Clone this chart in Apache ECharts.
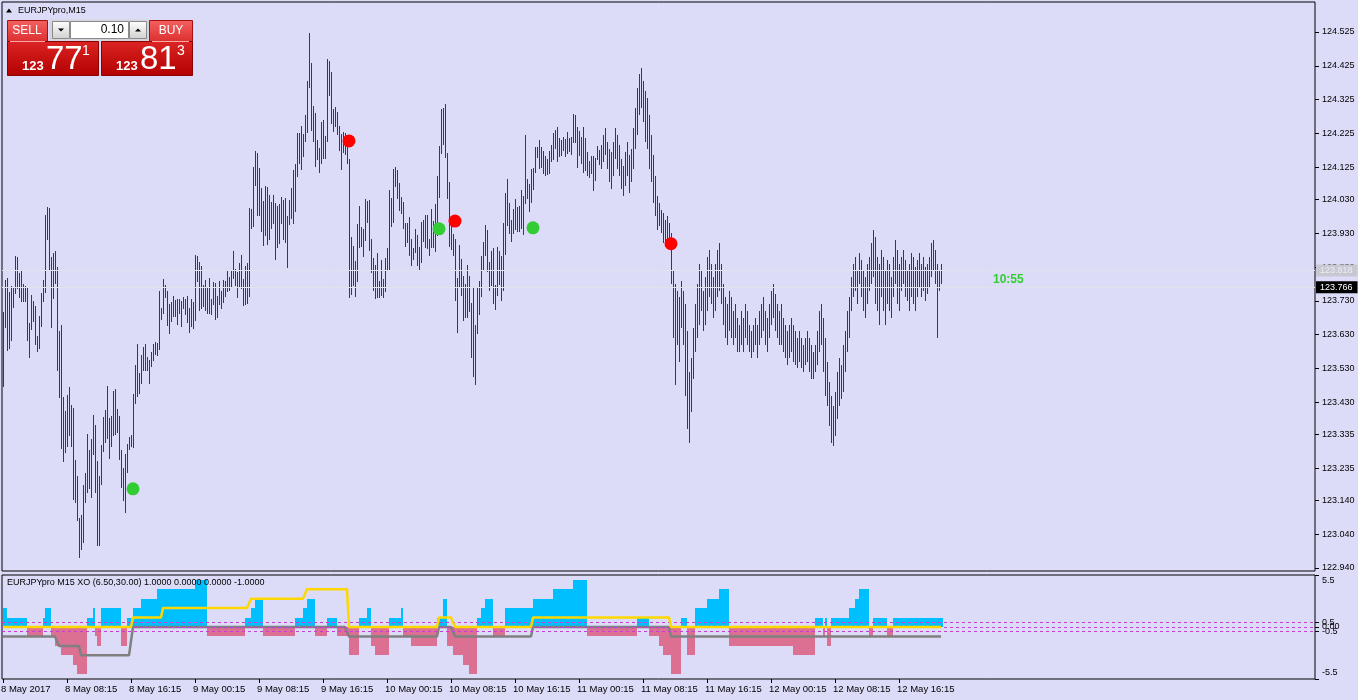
<!DOCTYPE html>
<html><head><meta charset="utf-8">
<script src="https://cdn.jsdelivr.net/npm/echarts@6/dist/echarts.min.js"></script>
<style>html,body{margin:0;padding:0;background:#dcdcf8;}#c{width:1358px;height:700px;}</style>
</head><body><div id="c"></div>
<script>
// ---------- DATA ----------
const symbolTitle = 'EURJPYpro,M15';
const indicatorTitle = 'EURJPYpro M15 XO (6.50,30.00) 1.0000 0.0000 0.0000 -1.0000';
const timeLabels = ['8 May 2017','8 May 08:15','8 May 16:15','9 May 00:15','9 May 08:15','9 May 16:15','10 May 00:15','10 May 08:15','10 May 16:15','11 May 00:15','11 May 08:15','11 May 16:15','12 May 00:15','12 May 08:15','12 May 16:15'];
const timeLabelBars = [0,32,64,96,128,160,192,224,256,288,320,352,384,416,448];
const priceTicks = [124.525,124.425,124.325,124.225,124.125,124.030,123.930,123.830,123.730,123.630,123.530,123.430,123.335,123.235,123.140,123.040,122.940];
const indTicks = [5.5,0.5,0,-0.5,-5.5];
const indLevels = [0.5,0,-0.5];
const bidPrice = 123.766;
const askPrice = 123.818;
const timerText = '10:55';
const highs = [
123.698,123.792,123.797,123.757,123.774,123.770,123.863,123.859,123.812,123.821,
123.780,123.774,123.769,123.664,123.748,123.730,123.715,123.626,123.685,123.752,
123.792,123.984,124.007,124.004,123.861,123.871,123.878,123.829,123.641,123.659,
123.446,123.403,123.452,123.476,123.422,123.413,123.260,123.212,123.087,123.097,
123.186,123.220,123.336,123.289,123.322,123.393,123.363,123.255,123.212,123.304,
123.386,123.407,123.478,123.383,123.390,123.464,123.469,123.410,123.390,123.289,
123.237,123.277,123.307,123.327,123.333,123.454,123.540,123.603,123.517,123.570,
123.593,123.603,123.563,123.555,123.579,123.603,123.608,123.605,123.759,123.709,
123.795,123.777,123.759,123.721,123.727,123.745,123.733,123.736,123.736,123.729,
123.741,123.736,123.745,123.709,123.736,123.727,123.866,123.863,123.845,123.833,
123.777,123.792,123.771,123.798,123.736,123.786,123.783,123.745,123.789,123.759,
123.792,123.789,123.819,123.801,123.822,123.878,123.825,123.816,123.842,123.865,
123.796,123.833,123.842,124.005,124.002,124.126,124.173,124.167,124.123,124.064,
124.025,124.070,124.067,124.043,124.023,124.043,124.020,124.011,124.017,124.037,
124.028,124.034,123.981,124.028,124.064,124.117,124.135,124.227,124.227,124.247,
124.224,124.280,124.380,124.522,124.434,124.306,124.286,124.206,124.182,124.259,
124.265,124.218,124.446,124.440,124.407,124.298,124.304,124.289,124.247,124.224,
124.230,124.227,124.197,124.150,123.919,123.892,123.848,123.957,124.011,123.949,
123.943,124.031,124.026,124.029,123.913,123.857,123.836,123.872,123.789,123.851,
123.795,123.857,123.886,124.058,124.034,124.120,124.126,124.117,124.079,124.037,
124.023,123.960,123.960,123.978,123.913,123.886,123.943,123.925,123.889,123.964,
123.969,123.984,123.984,123.913,124.002,123.966,124.017,124.100,124.188,124.298,
124.301,124.312,124.168,124.082,123.955,123.928,123.913,123.799,123.895,123.854,
123.802,123.780,123.836,123.804,123.724,123.771,123.659,123.768,123.789,123.863,
123.904,123.955,123.940,123.845,123.878,123.887,123.777,123.890,123.878,123.863,
123.961,124.049,124.091,124.020,123.969,124.002,124.031,124.008,124.011,124.058,
124.040,124.221,124.091,124.076,124.120,124.123,124.185,124.185,124.206,124.185,
124.173,124.157,124.150,124.173,124.191,124.227,124.236,124.244,124.212,124.206,
124.215,124.209,124.230,124.212,124.215,124.283,124.280,124.244,124.233,124.215,
124.244,124.212,124.171,124.144,124.159,124.159,124.153,124.188,124.176,124.190,
124.22,124.24,124.20,124.18,124.17,124.20,124.24,124.22,124.19,124.15,
124.13,124.17,124.20,124.16,124.18,124.24,124.30,124.36,124.40,124.42,
124.38,124.35,124.33,124.28,124.22,124.16,124.10,124.04,124.02,124.00,
123.99,123.97,123.98,123.96,123.93,123.82,123.78,123.76,123.74,123.79,
123.76,123.72,123.64,123.52,123.56,123.65,123.72,123.78,123.84,123.82,
123.76,123.80,123.86,123.88,123.84,123.80,123.84,123.88,123.90,123.84,
123.78,123.74,123.72,123.76,123.74,123.70,123.72,123.68,123.66,123.70,
123.68,123.72,123.70,123.66,123.64,123.66,123.68,123.66,123.70,123.72,
123.74,123.70,123.68,123.72,123.76,123.78,123.75,123.72,123.70,123.72,
123.68,123.66,123.64,123.66,123.68,123.66,123.64,123.62,123.64,123.62,
123.60,123.62,123.64,123.62,123.60,123.58,123.60,123.64,123.70,123.72,
123.68,123.62,123.55,123.49,123.45,123.42,123.46,123.52,123.56,123.54,
123.60,123.64,123.70,123.74,123.80,123.84,123.86,123.82,123.87,123.85,
123.82,123.80,123.84,123.86,123.90,123.94,123.92,123.86,123.84,123.88,
123.86,123.82,123.85,123.84,123.80,123.86,123.91,123.88,123.84,123.86,
123.88,123.85,123.82,123.84,123.87,123.86,123.83,123.85,123.87,123.84,
123.86,123.83,123.84,123.86,123.90,123.91,123.88,123.84,123.82,123.84
];
const lows = [
123.476,123.649,123.583,123.588,123.610,123.710,123.751,123.764,123.737,123.728,
123.728,123.728,123.612,123.560,123.644,123.666,123.598,123.580,123.589,123.654,
123.728,123.754,123.910,123.817,123.651,123.734,123.780,123.524,123.444,123.291,
123.252,123.281,123.299,123.329,123.297,123.141,123.133,123.080,122.971,122.993,
123.013,123.131,123.161,123.173,123.146,123.274,123.163,123.006,123.006,123.186,
123.284,123.311,123.321,123.262,123.297,123.329,123.334,123.340,123.258,123.178,
123.139,123.104,123.222,123.289,123.297,123.296,123.425,123.447,123.455,123.484,
123.524,123.524,123.523,123.484,123.533,123.553,123.569,123.567,123.585,123.674,
123.691,123.737,123.656,123.632,123.666,123.681,123.683,123.659,123.691,123.653,
123.706,123.688,123.665,123.635,123.654,123.647,123.671,123.786,123.700,123.706,
123.713,123.700,123.691,123.691,123.687,123.718,123.674,123.680,123.718,123.706,
123.724,123.742,123.756,123.759,123.768,123.795,123.774,123.739,123.768,123.766,
123.714,123.717,123.721,123.740,123.941,123.949,124.071,123.982,123.981,123.935,
123.893,123.923,123.896,123.909,123.943,123.958,123.852,123.887,123.899,123.958,
123.911,123.902,123.828,123.955,123.972,123.958,123.994,124.095,124.136,124.118,
124.156,124.201,124.225,124.358,124.231,124.201,124.127,124.145,124.109,124.136,
124.148,124.148,124.201,124.337,124.254,124.228,124.245,124.219,124.174,124.118,
124.168,124.160,124.136,123.737,123.748,123.775,123.742,123.787,123.887,123.890,
123.861,123.908,123.959,123.876,123.811,123.760,123.734,123.737,123.737,123.743,
123.737,123.757,123.822,123.822,123.947,123.959,124.068,124.032,123.997,123.988,
123.941,123.890,123.902,123.864,123.834,123.852,123.870,123.834,123.817,123.843,
123.905,123.885,123.884,123.864,123.885,123.885,123.873,123.923,124.035,124.163,
124.192,124.151,124.030,123.890,123.879,123.864,123.731,123.636,123.772,123.743,
123.669,123.678,123.680,123.698,123.562,123.506,123.482,123.633,123.689,123.740,
123.822,123.864,123.814,123.760,123.775,123.722,123.704,123.743,123.778,123.731,
123.760,123.867,123.950,123.929,123.905,123.929,123.938,123.935,123.935,123.941,
123.926,124.015,124.032,123.994,124.018,124.059,124.109,124.151,124.121,124.124,
124.106,124.098,124.101,124.106,124.142,124.145,124.180,124.142,124.154,124.157,
124.174,124.154,124.163,124.171,124.160,124.198,124.198,124.124,124.157,124.136,
124.109,124.115,124.098,124.092,124.106,124.056,124.083,124.145,124.133,124.120,
124.14,124.16,124.12,124.08,124.06,124.10,124.15,124.12,124.10,124.06,
124.04,124.07,124.10,124.05,124.08,124.12,124.18,124.22,124.28,124.30,
124.26,124.20,124.18,124.12,124.08,124.02,123.98,123.94,123.95,123.93,
123.90,123.89,123.91,123.90,123.78,123.62,123.48,123.60,123.55,123.65,
123.60,123.45,123.35,123.31,123.40,123.50,123.58,123.62,123.66,123.70,
123.64,123.66,123.70,123.74,123.72,123.68,123.70,123.74,123.76,123.72,
123.66,123.62,123.60,123.64,123.62,123.60,123.62,123.58,123.58,123.60,
123.58,123.62,123.60,123.58,123.56,123.58,123.60,123.56,123.60,123.62,
123.64,123.60,123.58,123.62,123.66,123.68,123.64,123.62,123.60,123.60,
123.58,123.56,123.54,123.56,123.58,123.55,123.54,123.53,123.55,123.53,
123.52,123.54,123.55,123.52,123.50,123.50,123.52,123.54,123.58,123.60,
123.52,123.45,123.42,123.36,123.31,123.30,123.33,123.38,123.42,123.44,
123.46,123.52,123.58,123.62,123.70,123.74,123.76,123.72,123.78,123.74,
123.70,123.68,123.72,123.76,123.78,123.80,123.72,123.70,123.66,123.74,
123.70,123.66,123.72,123.70,123.68,123.74,123.78,123.72,123.70,123.76,
123.78,123.74,123.73,123.70,123.74,123.72,123.70,123.74,123.77,123.74,
123.76,123.73,123.75,123.77,123.80,123.82,123.78,123.62,123.76,123.78
];
// XO histogram: positive = X count (blue), negative = O count (pink)
const xoHist = [
2,2,1,1,1,1,1,1,1,1,
1,1,-1,-1,-1,-1,-1,-1,-1,-1,
1,2,2,2,-1,-1,-2,-2,-2,-3,
-3,-3,-3,-3,-3,-4,-4,-5,-5,-5,
-5,-5,1,1,1,2,-1,-2,-2,2,
2,2,2,2,2,2,2,2,2,-2,
-2,-2,1,1,1,2,2,2,2,3,
3,3,3,3,3,3,3,4,4,4,
4,4,4,4,4,4,4,4,4,4,
4,4,4,4,4,4,5,5,5,5,
5,5,-1,-1,-1,-1,-1,-1,-1,-1,
-1,-1,-1,-1,-1,-1,-1,-1,-1,-1,
-1,1,1,1,2,2,3,3,3,3,
-1,-1,-1,-1,-1,-1,-1,-1,-1,-1,
-1,-1,-1,-1,-1,-1,1,1,1,1,
2,2,3,3,3,3,-1,-1,-1,-1,
-1,-1,1,1,1,1,1,-1,-1,-1,
-1,-1,-1,-3,-3,-3,-3,-3,1,1,
1,1,2,2,-2,-2,-3,-3,-3,-3,
-3,-3,-3,1,1,1,1,1,1,2,
-1,-1,-1,-1,-2,-2,-2,-2,-2,-2,
-2,-2,-2,-2,-2,-2,-2,1,1,1,
3,3,-2,-2,-2,-3,-3,-3,-3,-3,
-4,-4,-4,-5,-5,-5,-5,1,1,2,
2,3,3,3,3,-1,-1,-1,-1,-1,
-1,2,2,2,2,2,2,2,2,2,
2,2,2,2,2,3,3,3,3,3,
3,3,3,3,3,4,4,4,4,4,
4,4,4,4,4,5,5,5,5,5,
5,5,-1,-1,-1,-1,-1,-1,-1,-1,
-1,-1,-1,-1,-1,-1,-1,-1,-1,-1,
-1,-1,-1,-1,-1,-1,-1,1,1,1,
1,1,1,-1,-1,-1,-1,-1,-2,-2,
-3,-3,-3,-3,-5,-5,-5,-5,-5,1,
1,1,-3,-3,-3,-3,2,2,2,2,
2,2,3,3,3,3,3,3,4,4,
4,4,4,-2,-2,-2,-2,-2,-2,-2,
-2,-2,-2,-2,-2,-2,-2,-2,-2,-2,
-2,-2,-2,-2,-2,-2,-2,-2,-2,-2,
-2,-2,-2,-2,-2,-3,-3,-3,-3,-3,
-3,-3,-3,-3,-3,-3,1,1,1,1,
-1,1,-2,-2,1,1,1,1,1,1,
1,1,1,2,2,2,3,3,4,4,
4,4,4,-1,-1,1,1,1,1,1,
1,1,-1,-1,-1,1,1,1,1,1,
1,1,1,1,1,1,1,1,1,1,
1,1,1,1,1,1,1,1,1,1
];
const trendUp = [
0,0,0,0,0,0,0,0,0,0, 0,0,0,0,0,0,0,0,0,0, 0,0,0,0,0,0,0,0,0,0,
0,0,0,0,0,0,0,0,0,0, 0,0,0,0,0,0,0,0,0,0, 0,0,0,0,0,0,0,0,0,0,
0,0,0,0,0,1,1,1,1,1, 1,1,1,1,1,1,1,1,1,1,
2,2,2,2,2,2,2,2,2,2, 2,2,2,2,2,2,2,2,2,2, 2,2,2,2,2,2,2,2,2,2, 2,2,2,2,2,2,2,2,2,2,
2,2,2,2,3,3,3,3,3,3, 3,3,3,3,3,3,3,3,3,3, 3,3,3,3,3,3,3,3,3,3,
3,3,4,4,4,4,4,4,4,4, 4,4,4,4,4,4,4,4,4,4, 4,4,4,0,0,0,0,0,0,0,
0,0,0,0,0,0,0,0,0,0, 0,0,0,0,0,0,0,0,0,0, 0,0,0,0,0,0,0,0,0,0,
0,0,0,0,0,0,0,0,1,1, 1,1,1,1,1,1,0,0,0,0,
0,0,0,0,0,0,0,0,0,0, 0,0,0,0,0,0,0,0,0,0, 0,0,0,0,0,0,0,0,0,0,
0,0,0,0,0,1,1,1,1,1, 1,1,1,1,1,1,1,1,1,1, 1,1,1,1,1,1,1,1,1,1,
1,1,1,1,1,1,1,1,1,1, 1,1,1,1,1,1,1,1,1,1, 1,1,1,1,1,1,1,1,1,1,
1,1,1,1,1,1,1,1,1,1, 1,1,1,1,0,0,0,0,0,0,
0,0,0,0,0,0,0,0,0,0, 0,0,0,0,0,0,0,0,0,0, 0,0,0,0,0,0,0,0,0,0,
0,0,0,0,0,0,0,0,0,0, 0,0,0,0,0,0,0,0,0,0, 0,0,0,0,0,0,0,0,0,0,
0,0,0,0,0,0,0,0,0,0, 0,0,0,0,0,0,0,0,0,0, 0,0,0,0,0,0,0,0,0,0,
0,0,0,0,0,0,0,0,0,0, 0,0,0,0,0,0,0,0,0,0, 0,0,0,0,0,0,0,0,0,0,
0,0,0,0,0,0,0,0,0,0
];
const trendDown = [
-1,-1,-1,-1,-1,-1,-1,-1,-1,-1, -1,-1,-1,-1,-1,-1,-1,-1,-1,-1,
-1,-1,-1,-1,-1,-1,-1,-1,-2,-2, -2,-2,-2,-2,-2,-2,-2,-2,-2,-3,
-3,-3,-3,-3,-3,-3,-3,-3,-3,-3, -3,-3,-3,-3,-3,-3,-3,-3,-3,-3,
-3,-3,-3,-3,-3,0,0,0,0,0,
0,0,0,0,0,0,0,0,0,0, 0,0,0,0,0,0,0,0,0,0, 0,0,0,0,0,0,0,0,0,0, 0,0,0,0,0,0,0,0,0,0,
0,0,0,0,0,0,0,0,0,0, 0,0,0,0,0,0,0,0,0,0, 0,0,0,0,0,0,0,0,0,0, 0,0,0,0,0,0,0,0,0,0,
0,0,0,0,0,0,0,0,0,0, 0,0,0,0,0,0,0,0,0,0,
0,0,0,-1,-1,-1,-1,-1,-1,-1,
-1,-1,-1,-1,-1,-1,-1,-1,-1,-1, -1,-1,-1,-1,-1,-1,-1,-1,-1,-1, -1,-1,-1,-1,-1,-1,-1,-1,-1,-1,
-1,-1,-1,-1,-1,-1,-1,-1,0,0, 0,0,0,0,0,0,-1,-1,-1,-1,
-1,-1,-1,-1,-1,-1,-1,-1,-1,-1, -1,-1,-1,-1,-1,-1,-1,-1,-1,-1, -1,-1,-1,-1,-1,-1,-1,-1,-1,-1,
-1,-1,-1,-1,-1,0,0,0,0,0,
0,0,0,0,0,0,0,0,0,0, 0,0,0,0,0,0,0,0,0,0, 0,0,0,0,0,0,0,0,0,0,
0,0,0,0,0,0,0,0,0,0, 0,0,0,0,0,0,0,0,0,0, 0,0,0,0,0,0,0,0,0,0,
0,0,0,0,-1,-1,-1,-1,-1,-1,
-1,-1,-1,-1,-1,-1,-1,-1,-1,-1, -1,-1,-1,-1,-1,-1,-1,-1,-1,-1, -1,-1,-1,-1,-1,-1,-1,-1,-1,-1,
-1,-1,-1,-1,-1,-1,-1,-1,-1,-1, -1,-1,-1,-1,-1,-1,-1,-1,-1,-1, -1,-1,-1,-1,-1,-1,-1,-1,-1,-1,
-1,-1,-1,-1,-1,-1,-1,-1,-1,-1, -1,-1,-1,-1,-1,-1,-1,-1,-1,-1, -1,-1,-1,-1,-1,-1,-1,-1,-1,-1,
-1,-1,-1,-1,-1,-1,-1,-1,-1,-1, -1,-1,-1,-1,-1,-1,-1,-1,-1,-1, -1,-1,-1,-1,-1,-1,-1,-1,-1,-1,
-1,-1,-1,-1,-1,-1,-1,-1,-1,-1
];
const buySignals = [[65,123.174],[218,123.943],[265,123.946]];
const sellSignals = [[173,124.203],[226,123.966],[334,123.899]];

// ---------- CHART ----------
const BG = '#dcdcf8', BAR = '#284828', UPC = '#00bfff', DNC = '#db7093';
const FONT = '"Liberation Sans", Arial, sans-serif';
const XMIN = -0.5, XMAX = 656;
const chart = echarts.init(document.getElementById('c'), null, {renderer:'canvas', width:1358, height:700});

const barData = highs.map((h,i)=>[i, lows[i], h]);
const histData = xoHist.map((v,i)=>[i, v]);
const upData = trendUp.map((v,i)=>[i, v]);
const dnData = trendDown.map((v,i)=>[i, v]);

function renderBar(params, api){
  const i = api.value(0), lo = api.value(1), hi = api.value(2);
  const a = api.coord([i, hi]), b = api.coord([i, lo]);
  const y1 = Math.round(a[1]), y2 = Math.round(b[1]);
  return {type:'rect', shape:{x:Math.floor(a[0]), y:y1, width:1, height:Math.max(1, y2-y1)}, style:{fill:BAR}};
}
function renderHist(params, api){
  const i = api.value(0), v = api.value(1);
  if (!v) return null;
  const a = api.coord([i, v]), z = api.coord([i, 0]);
  const y1 = Math.round(Math.min(a[1], z[1])), y2 = Math.round(Math.max(a[1], z[1]));
  return {type:'rect', shape:{x:Math.floor(a[0]), y:y1, width:2, height:y2-y1}, style:{fill: v>0?UPC:DNC}};
}

function txt(x,y,t,font,fill,align,va){
  return {type:'text', x:x, y:y, z:100, silent:true, style:{text:t, font:font, fill:fill||'#000', align:align||'left', verticalAlign:va||'middle', textAlign:align||'left', textVerticalAlign:va||'middle'}};
}
function grad(c1,c2){ return new echarts.graphic.LinearGradient(0,0,0,1,[{offset:0,color:c1},{offset:1,color:c2}]); }

const graphics = [
  {type:'polygon', z:100, shape:{points:[[6,12.5],[12,12.5],[9,8.5]]}, style:{fill:'#000'}},
  txt(18, 11, symbolTitle, '9px '+FONT),
  {type:'rect', z:99, shape:{x:49.5,y:19.5,width:100,height:22}, style:{fill:'#d4d4dc'}},
  {type:'rect', z:100, shape:{x:7.5,y:20.5,width:40,height:21}, style:{fill:grad('#f46262','#dc2e2e'), stroke:'#a81010'}},
  {type:'rect', z:100, shape:{x:7.5,y:41.5,width:91,height:34}, style:{fill:grad('#dc2424','#b20000'), stroke:'#8c0000'}},
  {type:'rect', z:100, shape:{x:149.5,y:20.5,width:43,height:21}, style:{fill:grad('#f46262','#dc2e2e'), stroke:'#a81010'}},
  {type:'rect', z:100, shape:{x:101.5,y:41.5,width:91,height:34}, style:{fill:grad('#dc2424','#b20000'), stroke:'#8c0000'}},
  {type:'line', z:101, shape:{x1:10,y1:41.5,x2:45,y2:41.5}, style:{stroke:'#f6a8a8', lineWidth:1}},
  {type:'line', z:101, shape:{x1:152,y1:41.5,x2:189,y2:41.5}, style:{stroke:'#f6a8a8', lineWidth:1}},
  txt(27, 31, 'SELL', '12px '+FONT, '#fff', 'center'),
  txt(171, 31, 'BUY', '12px '+FONT, '#fff', 'center'),
  {type:'rect', z:100, shape:{x:52.5,y:21.5,width:17,height:17}, style:{fill:grad('#ffffff','#d0d0d0'), stroke:'#8a8a8a'}},
  {type:'polygon', z:101, shape:{points:[[58,28.5],[64,28.5],[61,31.5]]}, style:{fill:'#000'}},
  {type:'rect', z:100, shape:{x:70.5,y:21.5,width:58,height:17}, style:{fill:'#fff', stroke:'#8a8a8a'}},
  txt(124, 30, '0.10', '12px '+FONT, '#000', 'right'),
  {type:'rect', z:100, shape:{x:129.5,y:21.5,width:17,height:17}, style:{fill:grad('#ffffff','#d0d0d0'), stroke:'#8a8a8a'}},
  {type:'polygon', z:101, shape:{points:[[135,31.5],[141,31.5],[138,28.5]]}, style:{fill:'#000'}},
  txt(22, 66, '123', 'bold 13px '+FONT, '#fff'),
  txt(46, 60, '77', '33px "Liberation Sans Narrow", '+FONT, '#fff'),
  txt(82, 51, '1', '14px '+FONT, '#fff'),
  txt(116, 66, '123', 'bold 13px '+FONT, '#fff'),
  txt(140, 60, '81', '33px "Liberation Sans Narrow", '+FONT, '#fff'),
  txt(177, 51, '3', '14px '+FONT, '#fff'),
  txt(993, 280, timerText, 'bold 12px '+FONT, '#32cd32'),
  txt(7, 583, indicatorTitle, '9px '+FONT, '#000')
];

const option = {
  animation:false,
  backgroundColor:BG,
  grid:[
    {left:2, top:2, width:1313, height:569, show:true, borderColor:'#000', borderWidth:1, backgroundColor:'transparent', containLabel:false, outerBoundsMode:'none'},
    {left:2, top:575, width:1313, height:104, show:true, borderColor:'#000', borderWidth:1, backgroundColor:'transparent', containLabel:false, outerBoundsMode:'none'}
  ],
  xAxis:[
    {type:'value', gridIndex:0, min:XMIN, max:XMAX, show:false, splitLine:{show:false}, axisLine:{onZero:false}},
    {type:'value', gridIndex:1, min:XMIN, max:XMAX, position:'bottom', splitLine:{show:false},
     axisLine:{show:false, onZero:false},
     axisTick:{show:true, customValues:timeLabelBars, length:4, lineStyle:{color:'#000'}},
     axisLabel:{customValues:timeLabelBars, formatter:(v)=>timeLabels[timeLabelBars.indexOf(v)], align:'left', margin:5, color:'#000', fontSize:9.5, fontFamily:FONT, hideOverlap:false, padding:[0,0,0,-2]}}
  ],
  yAxis:[
    {type:'value', gridIndex:0, position:'right', min:122.9311, max:124.6137, scale:true, splitLine:{show:false},
     axisLine:{show:false, onZero:false},
     axisTick:{show:true, customValues:priceTicks, length:4, lineStyle:{color:'#000'}},
     axisLabel:{customValues:priceTicks, formatter:(v)=>v.toFixed(3), margin:7, color:'#000', fontSize:9, fontFamily:FONT, hideOverlap:false}},
    {type:'value', gridIndex:1, position:'right', min:-5.5, max:5.5, splitLine:{show:false},
     axisLine:{show:false, onZero:false},
     axisTick:{show:true, customValues:indTicks, length:4, lineStyle:{color:'#000'}},
     axisLabel:{customValues:indTicks, margin:7, color:'#000', fontSize:9, fontFamily:FONT, hideOverlap:false,
       formatter:(v)=> v===5.5 ? '{t|5.5}' : v===-5.5 ? '{b|-5.5}' : (v===0 ? '0.00' : String(v)),
       rich:{t:{fontSize:9, fontFamily:FONT, color:'#000', padding:[12,0,0,0]}, b:{fontSize:9, fontFamily:FONT, color:'#000', padding:[0,0,13,0]}}}}
  ],
  series:[
    {type:'line', xAxisIndex:0, yAxisIndex:0, data:[], z:1, silent:true,
     markLine:{silent:true, symbol:['none','none'], animation:false,
       data:[
         {yAxis:askPrice, lineStyle:{color:'#e2e2ea', width:1, type:'solid'}, label:{show:true, position:'end', distance:1, formatter:askPrice.toFixed(3), backgroundColor:'#c8c8d2', color:'#ececf2', fontSize:9, fontFamily:FONT, padding:[2,5,1,4]}},
         {yAxis:bidPrice, lineStyle:{color:'#e2e2ea', width:1, type:'solid'}, label:{show:true, position:'end', distance:1, formatter:bidPrice.toFixed(3), backgroundColor:'#000', color:'#fff', fontSize:9, fontFamily:FONT, padding:[2,5,1,4]}}
       ]}},
    {type:'custom', xAxisIndex:0, yAxisIndex:0, data:barData, renderItem:renderBar, z:2, silent:true, clip:true},
    {type:'scatter', xAxisIndex:0, yAxisIndex:0, data:buySignals, symbol:'circle', symbolSize:13, itemStyle:{color:'#32cd32', opacity:1}, z:5, silent:true},
    {type:'scatter', xAxisIndex:0, yAxisIndex:0, data:sellSignals, symbol:'circle', symbolSize:13, itemStyle:{color:'#ff0000', opacity:1}, z:5, silent:true},
    {type:'custom', xAxisIndex:1, yAxisIndex:1, data:histData, renderItem:renderHist, z:2, silent:true, clip:true},
    {type:'line', xAxisIndex:1, yAxisIndex:1, data:[], z:3, silent:true,
     markLine:{silent:true, symbol:['none','none'], animation:false, label:{show:false},
       lineStyle:{color:'#c83cd2', width:1, type:[3,3]},
       data: indLevels.map(v=>({yAxis:v}))}},
    {type:'line', xAxisIndex:1, yAxisIndex:1, data:dnData, showSymbol:false, z:4, silent:true, lineStyle:{color:'#808080', width:2.5}},
    {type:'line', xAxisIndex:1, yAxisIndex:1, data:upData, showSymbol:false, z:5, silent:true, lineStyle:{color:'#ffd700', width:2.5}}
  ],
  graphic: graphics
};
chart.setOption(option);
</script></body></html>
